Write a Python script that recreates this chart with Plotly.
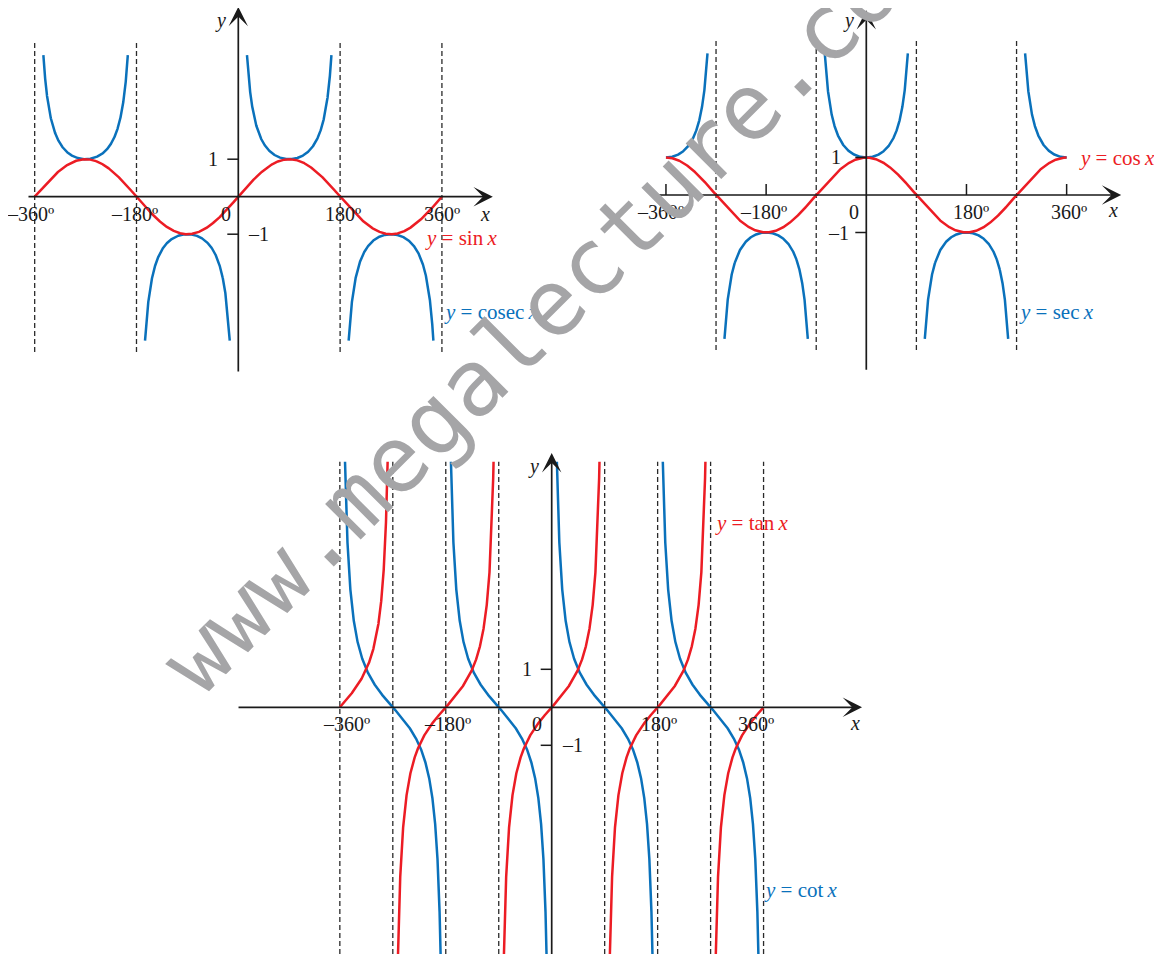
import numpy as np
import plotly.graph_objects as go

W, H = 1162, 954
OFF = 8  # page body margin of the written html shifts the figure by this many px
RED = "#ec1c24"
BLUE = "#0a71bb"
INK = "#1a1a1a"
FONT = "Liberation Serif"
FS = 20
FS_LABEL = 21

# ---------------- data ----------------
x_tick_vals = [-360, -180, 180, 360]
x_tick_text = ["–360º", "–180º", "180º", "360º"]
y_tick_vals = [1, -1]
y_tick_text = ["1", "–1"]

sin_asymptotes = [-360, -180, 180, 360]          # cosec x undefined
cos_asymptotes = [-270, -90, 90, 270]            # sec x undefined
tan_asymptotes = [-360, -270, -180, -90, 90, 180, 270, 360]  # tan / cot undefined

recip_limit_top = 3.78      # visible height of cosec / sec branches
recip_limit_bottom = -3.85
tan_limit_top = 6.46
tan_limit_bottom = -6.7

curve_labels = {
    "sin": "<i>y</i> = sin\u2009<i>x</i>",
    "cosec": "<i>y</i> = cosec\u2009<i>x</i>",
    "cos": "<i>y</i> = cos\u2009<i>x</i>",
    "sec": "<i>y</i> = sec\u2009<i>x</i>",
    "tan": "<i>y</i> = tan\u2009<i>x</i>",
    "cot": "<i>y</i> = cot\u2009<i>x</i>",
}

x_deg = np.arange(-360.0, 360.0 + 0.025, 0.05)
rad = np.deg2rad(x_deg)


def clip(y, lo, hi):
    y = np.array(y, dtype=float)
    y[~np.isfinite(y) | (y > hi) | (y < lo)] = np.nan
    return y


with np.errstate(divide="ignore", invalid="ignore"):
    y_sin = np.sin(rad)
    y_cos = np.cos(rad)
    y_cosec = clip(1.0 / np.sin(rad), recip_limit_bottom, recip_limit_top)
    y_sec = clip(1.0 / np.cos(rad), recip_limit_bottom, recip_limit_top)
    y_tan = clip(np.sin(rad) / np.cos(rad), tan_limit_bottom, tan_limit_top)
    y_cot = clip(np.cos(rad) / np.sin(rad), tan_limit_bottom, tan_limit_top)

fig = go.Figure()


def line(x, y, color, ax_id):
    fig.add_trace(go.Scatter(x=x, y=y, mode="lines", connectgaps=False,
                             line=dict(color=color, width=2.5),
                             xaxis="x" + ax_id, yaxis="y" + ax_id,
                             hoverinfo="skip", showlegend=False))


line(x_deg, y_cosec, BLUE, "")
line(x_deg, y_sin, RED, "")
line(x_deg, y_sec, BLUE, "2")
line(x_deg, y_cos, RED, "2")
line(x_deg, y_cot, BLUE, "3")
line(x_deg, y_tan, RED, "3")

# pixel geometry of each panel (reference pixels): origin pixel and scale; box in figure pixels
p1 = dict(x0=238.3, sx=0.5656, y0=196.7, sy=37.5, box=(0, 575, 0, 400))
p2 = dict(x0=866.3, sx=0.5565, y0=195.0, sy=37.5, box=(585, 1162, 0, 400))
p3 = dict(x0=551.7, sx=0.5885, y0=707.3, sy=38.0, box=(215, 900, 420, 954))


def axes_for(p):
    l, r, t, b = p["box"]
    x0 = p["x0"] - OFF
    y0 = p["y0"] - OFF
    xr = [(l - x0) / p["sx"], (r - x0) / p["sx"]]
    yr = [(y0 - b) / p["sy"], (y0 - t) / p["sy"]]
    return (dict(domain=[l / W, r / W], range=xr, visible=False, fixedrange=True),
            dict(domain=[1 - b / H, 1 - t / H], range=yr, visible=False, fixedrange=True))


xa1, ya1 = axes_for(p1)
xa2, ya2 = axes_for(p2)
xa3, ya3 = axes_for(p3)
xa1["anchor"] = "y"; ya1["anchor"] = "x"
xa2["anchor"] = "y2"; ya2["anchor"] = "x2"
xa3["anchor"] = "y3"; ya3["anchor"] = "x3"

shapes = []
annotations = []


def dashed(xs, lo, hi, ax_id):
    for a in xs:
        shapes.append(dict(type="line", xref="x" + ax_id, yref="y" + ax_id,
                           x0=a, x1=a, y0=lo, y1=hi, layer="below",
                           line=dict(color="#2a2a2a", width=1.3, dash="5px,3px")))


def arrow_axis(x0, x1, y0, y1, ax_id):
    for (hx, hy, tx, ty) in [(x1, 0, x0, 0), (0, y1, 0, y0)]:
        annotations.append(dict(xref="x" + ax_id, yref="y" + ax_id,
                                axref="x" + ax_id, ayref="y" + ax_id,
                                x=hx, y=hy, ax=tx, ay=ty, text="", showarrow=True,
                                arrowhead=3, arrowsize=1.9, arrowwidth=1.7, arrowcolor=INK,
                                standoff=0, startstandoff=0))


def y_ticks(ax_id):
    for v in y_tick_vals:
        shapes.append(dict(type="line", xref="x" + ax_id, yref="y" + ax_id,
                           xsizemode="pixel", xanchor=0, x0=-11, x1=0, y0=v, y1=v,
                           line=dict(color=INK, width=1.5)))


def x_ticks_up(ax_id):
    for v in x_tick_vals:
        shapes.append(dict(type="line", xref="x" + ax_id, yref="y" + ax_id,
                           ysizemode="pixel", yanchor=0, y0=0, y1=11, x0=v, x1=v,
                           line=dict(color=INK, width=1.5)))


def text(ax_id, x, y, s, xshift=0, yshift=0, color=INK, xanchor="center", size=FS):
    annotations.append(dict(xref="x" + ax_id, yref="y" + ax_id, x=x, y=y, text=s,
                            showarrow=False, xshift=xshift, yshift=yshift,
                            xanchor=xanchor, yanchor="middle",
                            font=dict(family=FONT, size=size, color=color)))


# ---------- panel 1: sin / cosec ----------
dashed(sin_asymptotes, -4.14, 4.12, "")
arrow_axis(-373.6, 450, -4.7, 5.06, "")
y_ticks("")
for v, s, dx in zip(x_tick_vals, x_tick_text, [-4, -2, 3, 0]):
    text("", v, 0, s, xshift=dx, yshift=-17)
text("", 0, 0, "0", xshift=-12, yshift=-17)
text("", 0, 1, y_tick_text[0], xshift=-25)
text("", 0, -1, y_tick_text[1], xshift=20)
text("", 436, 0, "<i>x</i>", yshift=-17)
text("", 0, 4.71, "<i>y</i>", xshift=-18)
text("", 326.6, -1.10, curve_labels["sin"], color=RED, xanchor="left", size=FS_LABEL)
text("", 360.2, -3.07, curve_labels["cosec"], color=BLUE, xanchor="left", size=FS_LABEL)

# ---------- panel 2: cos / sec ----------
dashed(cos_asymptotes, -4.13, 4.13, "2")
arrow_axis(-380, 458, -4.7, 4.93, "2")
y_ticks("2")
x_ticks_up("2")
for v, s, dx in zip(x_tick_vals, x_tick_text, [-5, -3, 5, 2]):
    text("2", v, 0, s, xshift=dx, yshift=-17)
text("2", 0, 0, "0", xshift=-12, yshift=-17)
text("2", 0, 1.02, y_tick_text[0], xshift=-30)
text("2", 0, -1.01, y_tick_text[1], xshift=-28)
text("2", (1113 - 866.3) / 0.5565, 0, "<i>x</i>", yshift=-15)
text("2", 0, (195 - 20) / 37.5, "<i>y</i>", xshift=-18)
text("2", 378.6, 0.987, curve_labels["cos"], color=RED, xanchor="left", size=FS_LABEL)
text("2", 270.8, -3.12, curve_labels["sec"], color=BLUE, xanchor="left", size=FS_LABEL)

# ---------- panel 3: tan / cot ----------
dashed(tan_asymptotes, -6.7, 6.46, "3")
arrow_axis(-534.7, 527.3, -6.7, 6.69, "3")
y_ticks("3")
for v, s, dx in zip(x_tick_vals, x_tick_text, [7, 2, 1, -8]):
    text("3", v, 0, s, xshift=dx, yshift=-17)
text("3", 0, 0, "0", xshift=-15, yshift=-17)
text("3", 0, 1, y_tick_text[0], xshift=-25)
text("3", 0, -1, y_tick_text[1], xshift=21)
text("3", (855 - 551.7) / 0.5885, 0, "<i>x</i>", yshift=-16)
text("3", 0, (707.3 - 466) / 38, "<i>y</i>", xshift=-18)
text("3", 274, 4.85, curve_labels["tan"], color=RED, xanchor="left", size=FS_LABEL)
text("3", 357.4, -4.81, curve_labels["cot"], color=BLUE, xanchor="left", size=FS_LABEL)

# ---------- watermark ----------
annotations.append(dict(xref="paper", yref="paper", x=(550 - OFF) / W, y=1 - (305 - OFF) / H,
                        text="www.megalecture.com", showarrow=False, textangle=-45,
                        xanchor="center", yanchor="middle",
                        font=dict(family="DejaVu Sans Mono", size=92, color="#a5a5a7")))

fig.update_layout(
    width=W, height=H,
    margin=dict(l=0, r=0, t=0, b=0),
    paper_bgcolor="white", plot_bgcolor="rgba(0,0,0,0)",
    showlegend=False,
    xaxis=xa1, yaxis=ya1, xaxis2=xa2, yaxis2=ya2, xaxis3=xa3, yaxis3=ya3,
    shapes=shapes, annotations=annotations,
)

fig.write_html("out.html")
